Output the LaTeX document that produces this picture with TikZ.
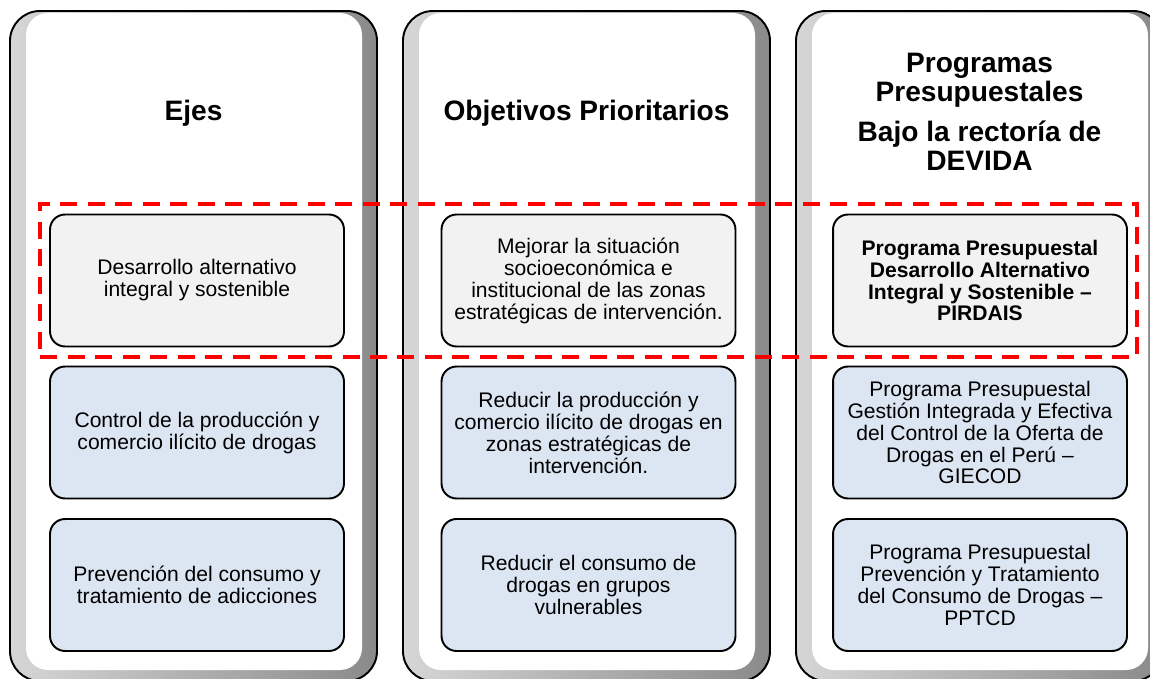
\documentclass[tikz,border=0pt]{standalone}
\usepackage{fontspec}
\setmainfont{Liberation Sans}
\usepackage{tikz}
\usetikzlibrary{fit}
\usepackage{xcolor}
\definecolor{boxgray}{HTML}{F2F2F2}
\definecolor{boxblue}{HTML}{DCE6F2}
\definecolor{bevlight}{HTML}{D6D6D6}
\definecolor{bevdark}{HTML}{8A8A8A}

\begin{document}
\begin{tikzpicture}[
    x=0.02cm, y=-0.02cm,
    head/.style={align=center, font=\fontsize{16}{16.5}\selectfont\bfseries},
    eje/.style={rectangle, draw, line width=1.1pt, rounded corners=0.3cm, fill=boxblue, minimum width=5.88cm, minimum height=2.64cm, align=center, font=\fontsize{12}{12.5}\selectfont},
    first/.style={eje, fill=boxgray},
    highlight/.style={rectangle, draw=red, line width=2pt, dash pattern=on 0.34cm off 0.21cm, inner xsep=0.18cm, inner ysep=0.19cm}
]
    \useasboundingbox (0,0) rectangle (1150,679);
    \clip (0,0) rectangle (1150,679);

    % Columns
    \foreach \x in {10, 403, 796} {
        \shade[left color=bevlight, right color=bevdark, rounded corners=0.6cm] (\x,11) rectangle ++(367,670);
        \fill[white, rounded corners=0.44cm] (\x+16,13) rectangle ++(336,657);
        \draw[line width=1.1pt, rounded corners=0.6cm] (\x,11) rectangle ++(367,670);
    }

    % Headers
    \node[head] (ejes) at (193.5,113) {Ejes};
    \node[head] (objetivos) at (586.5,113) {Objetivos Prioritarios};
    \node[head] (programas) at (979.5,112) {Programas\\Presupuestales\\[0.22cm]Bajo la rectoría de\\DEVIDA};

    % Ejes
    \node[first] (eje1) at (197,280.5) {Desarrollo alternativo\\integral y sostenible};
    \node[eje] (eje2) at (197,432.5) {Control de la producción y\\comercio ilícito de drogas};
    \node[eje] (eje3) at (197,585) {Prevención del consumo y\\tratamiento de adicciones};

    % Objetivos
    \node[first] (obj1) at (588.5,280.5) {Mejorar la situación\\socioeconómica e\\institucional de las zonas\\estratégicas de intervención.};
    \node[eje] (obj2) at (588.5,432.5) {Reducir la producción y\\comercio ilícito de drogas en\\zonas estratégicas de\\intervención.};
    \node[eje] (obj3) at (588.5,585) {Reducir el consumo de\\drogas en grupos\\vulnerables};

    % Programas
    \node[first, font=\fontsize{12}{12.5}\selectfont\bfseries] (prog1) at (980,280.5) {Programa Presupuestal\\Desarrollo Alternativo\\Integral y Sostenible –\\PIRDAIS};
    \node[eje] (prog2) at (980,432.5) {Programa Presupuestal\\Gestión Integrada y Efectiva\\del Control de la Oferta de\\Drogas en el Perú –\\GIECOD};
    \node[eje] (prog3) at (980,585) {Programa Presupuestal\\Prevención y Tratamiento\\del Consumo de Drogas –\\PPTCD};

    % Highlighted row
    \node[highlight, fit=(eje1)(prog1)] (fila) {};
\end{tikzpicture}
\end{document}
